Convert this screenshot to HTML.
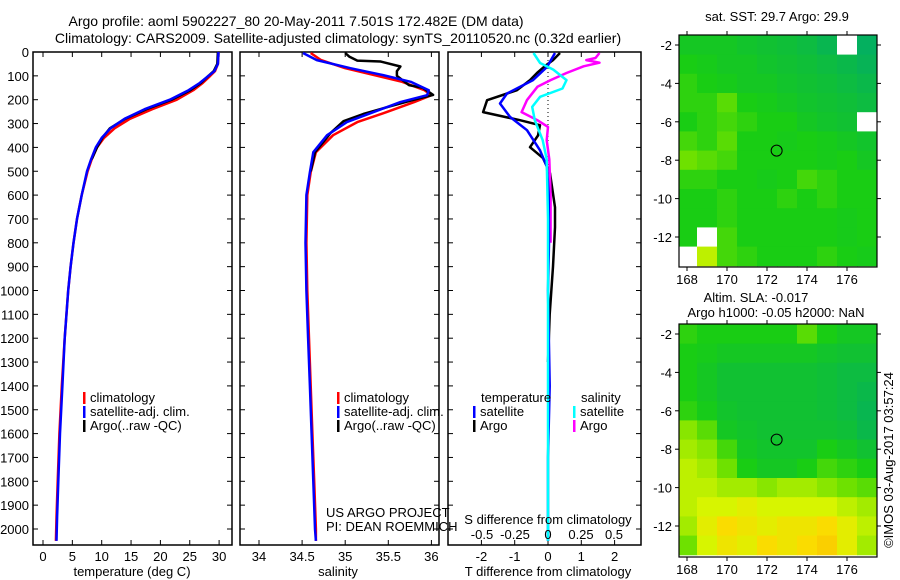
<!DOCTYPE html>
<html><head><meta charset="utf-8"><style>
html,body{margin:0;padding:0;background:#fff}
svg{display:block;font-family:"Liberation Sans",Arial,sans-serif}
</style></head><body>
<svg id="fig" width="900" height="580" viewBox="0 0 900 580" xmlns="http://www.w3.org/2000/svg">
<rect width="900" height="580" fill="#fff"/>
<text x="296" y="26" font-size="14" text-anchor="middle">Argo profile: aoml 5902227_80 20-May-2011 7.501S 172.482E (DM data)</text>
<text x="338" y="43" font-size="14" text-anchor="middle">Climatology: CARS2009. Satellite-adjusted climatology: synTS_20110520.nc (0.32d earlier)</text>
<g id="g"></g>
</svg>
<script>
// ---- data ----
const depthTicks=[0,100,200,300,400,500,600,700,800,900,1000,1100,1200,1300,1400,1500,1600,1700,1800,1900,2000];
const tempTicks=[0,5,10,15,20,25,30];
const salTicks=[34,34.5,35,35.5,36];
const tdiffTicks=[-2,-1,0,1,2];
const sdiffTicks=[-0.5,-0.25,0,0.25,0.5];
const sdiffTickLabels=["-0.5","-0.25","0","0.25","0.5"];
const lonTicks=[168,170,172,174,176];
const latTicks=[-2,-4,-6,-8,-10,-12];

const tClimDepth=[0,50,80,100,130,160,200,240,280,320,360,400,450,500,600,700,800,900,1000,1200,1400,1600,1800,1950,2050];
const tClim=[29.9,29.8,29.3,28.5,27.2,25.6,22.8,18.6,14.8,12.2,10.4,9.2,8.3,7.6,6.6,5.8,5.2,4.7,4.3,3.7,3.2,2.8,2.5,2.3,2.2];
const tSat=[29.9,29.8,29.2,28.2,26.7,24.8,21.6,17.3,13.9,11.5,10.0,9.0,8.2,7.5,6.6,5.8,5.2,4.7,4.3,3.7,3.3,2.9,2.6,2.4,2.3];
const tArgoDepth=[0,50,80,100,130,160,200,240,280,320,360,400,450];
const tArgo=[29.8,29.7,29.1,28.2,26.9,25.1,21.9,17.6,14.0,11.4,10.1,9.2,8.3];

const sDepth=[4,34,68,97,125,160,181,210,252,294,349,420,504,600,800,1000,1200,1400,1600,1800,2000,2050];
const sClim=[34.6,34.72,35.0,35.34,35.66,35.92,36.0,35.8,35.48,35.14,34.86,34.66,34.6,34.56,34.55,34.56,34.58,34.6,34.62,34.64,34.66,34.66];
const sSat=[34.51,34.67,35.06,35.44,35.76,35.97,35.95,35.64,35.33,35.02,34.79,34.63,34.59,34.55,34.54,34.55,34.57,34.59,34.61,34.63,34.65,34.66];
const sArgoDepth=[4,20,36,40,61,80,100,139,150,180,200,231,260,290,340,420,500];
const sArgo=[35.0,35.05,35.14,35.41,35.64,35.6,35.6,35.74,35.9,36.02,35.8,35.49,35.21,34.98,34.83,34.65,34.6];

const dTDepth=[4,34,60,88,118,160,202,252,286,307,350,399,445,508,651,735,900,1100,1300];
const dTArgo=[0.36,0.15,-0.1,-0.33,-0.54,-0.93,-1.83,-1.95,-0.84,-0.24,-0.3,-0.54,-0.15,0.06,0.21,0.21,0.15,0.05,0.0];
const dTSatDepth=[4,63,118,174,216,272,328,412,482,600,800,1000,1400,1700,2000,2050];
const dTSat=[0.21,-0.03,-0.45,-1.23,-1.44,-1.14,-0.63,-0.24,-0.03,0.02,0.03,0.0,0.05,0.0,0.0,0.0];
const dSSatDepth=[4,46,74,118,153,188,230,286,370,450,700,1000,1500,2050];
const dSSat=[-0.11,-0.06,0.04,0.14,0.11,-0.06,-0.12,-0.1,-0.04,-0.01,0.0,0.0,0.0,0.0];
const dSArgoDepth=[4,25,34,45,60,88,118,146,202,252,286,314,370,450,600,800];
const dSArgo=[0.39,0.36,0.29,0.39,0.27,0.14,0.02,-0.08,-0.16,-0.2,-0.08,0.0,-0.01,0.01,0.02,0.02];

const sstGrid=[
[0.25,0.25,0.25,0.22,0.2,0.18,0.15,0.1,null,0.05],
[0.3,0.28,0.25,0.25,0.22,0.2,0.18,0.15,0.12,0.08],
[0.35,0.3,0.28,0.25,0.25,0.22,0.2,0.18,0.15,0.12],
[0.35,0.35,0.45,0.3,0.28,0.25,0.22,0.2,0.18,0.15],
[0.3,0.35,0.4,0.35,0.3,0.3,0.25,0.22,0.2,null],
[0.4,0.35,0.45,0.3,0.3,0.28,0.3,0.28,0.25,0.22],
[0.5,0.45,0.4,0.3,0.3,0.3,0.3,0.28,0.3,0.25],
[0.35,0.35,0.3,0.3,0.28,0.3,0.4,0.35,0.3,0.3],
[0.3,0.3,0.35,0.3,0.3,0.35,0.3,0.35,0.3,0.3],
[0.3,0.3,0.35,0.3,0.3,0.3,0.3,0.3,0.28,0.3],
[0.3,null,0.4,0.3,0.3,0.3,0.3,0.3,0.28,0.3],
[null,0.65,0.4,0.35,0.3,0.3,0.3,0.35,0.3,0.28]];
const slaGrid=[
[0.35,0.3,0.3,0.3,0.3,0.3,0.45,0.3,0.25,0.25],
[0.3,0.28,0.25,0.25,0.25,0.25,0.25,0.22,0.2,0.2],
[0.3,0.25,0.2,0.2,0.2,0.2,0.2,0.18,0.15,0.15],
[0.3,0.25,0.2,0.2,0.2,0.2,0.2,0.18,0.15,0.12],
[0.35,0.28,0.22,0.2,0.2,0.2,0.2,0.18,0.15,0.1],
[0.55,0.45,0.25,0.22,0.2,0.2,0.2,0.2,0.18,0.12],
[0.6,0.55,0.4,0.25,0.22,0.22,0.22,0.3,0.25,0.2],
[0.65,0.6,0.5,0.3,0.25,0.25,0.3,0.4,0.35,0.3],
[0.65,0.65,0.6,0.6,0.55,0.6,0.6,0.55,0.5,0.45],
[0.65,0.7,0.7,0.75,0.7,0.7,0.7,0.7,0.65,0.6],
[0.6,0.75,0.85,0.8,0.75,0.8,0.8,0.85,0.75,0.65],
[0.5,0.7,0.8,0.75,0.85,0.8,0.85,0.9,0.75,0.6]];
const floatLon=172.482, floatLat=-7.501;

// ---- drawing ----
const NS="http://www.w3.org/2000/svg";
const G=document.getElementById('g');
function el(tag,attrs,parent){const e=document.createElementNS(NS,tag);for(const k in attrs)e.setAttribute(k,attrs[k]);(parent||G).appendChild(e);return e;}
function txt(x,y,s,anchor,parent,size){const t=el('text',{x:x,y:y,'font-size':size||13,'text-anchor':anchor||'start'},parent);t.textContent=s;return t;}
const yTop=52,yBot=545;
const yD=d=>yTop+d*0.2385;

function panel(name,x0,x1,xs,ticks,labels,yLabels){
  const g=el('g',{});
  
  
  const r=el('rect',{x:x0,y:yTop,width:x1-x0,height:yBot-yTop,fill:'none',stroke:'#000','stroke-width':1.5},g);
  
  
  depthTicks.forEach(d=>{
    const y=yD(d);
    el('line',{x1:x0,x2:x0+5,y1:y,y2:y,stroke:'#000'},g);
    el('line',{x1:x1-5,x2:x1,y1:y,y2:y,stroke:'#000'},g);
    if(yLabels){const t=txt(x0-4,y+5,String(d),'end',g);}
  });
  ticks.forEach((v,i)=>{
    const x=xs(v);
    el('line',{x1:x,x2:x,y1:yTop,y2:yTop+5,stroke:'#000'},g);
    el('line',{x1:x,x2:x,y1:yBot-5,y2:yBot,stroke:'#000'},g);
    const t=txt(x,561,labels?labels[i]:String(v),'middle',g);
    
    
  });
  return g;
}
function line(name,depths,vals,xs,color,w,parent){
  const pts=depths.map((d,i)=>xs(vals[i]).toFixed(1)+','+yD(d).toFixed(1)).join(' ');
  const p=el('polyline',{points:pts,fill:'none',stroke:color,'stroke-width':w||2.5,'stroke-linejoin':'round'},parent);
  
  
}
function legend(x,y,color,label,parent){
  el('rect',{x:x,y:y-10,width:2.5,height:12,fill:color},parent);
  const t=txt(x+7,y,label,'start',parent);
  
  
}

// panel 1 temperature
const xT=v=>43+v*5.87;
const p1=panel('temperature-panel',33,232,xT,tempTicks,null,true);
line('temp-climatology',tClimDepth,tClim,xT,'#ff0000',2.5,p1);
line('temp-argo',tArgoDepth,tArgo,xT,'#000',2.5,p1);
line('temp-satellite-adj',tClimDepth,tSat,xT,'#0000ff',2.5,p1);
legend(83,402,'#ff0000','climatology',p1);
legend(83,416,'#0000ff','satellite-adj. clim.',p1);
legend(83,430,'#000','Argo(..raw -QC)',p1);
let t=txt(132,576,'temperature (deg C)','middle',p1);


// panel 2 salinity
const xS=v=>259+(v-34)*86.2;
const p2=panel('salinity-panel',240,439,xS,salTicks,null,false);
line('sal-climatology',sDepth,sClim,xS,'#ff0000',2.5,p2);
line('sal-argo',sArgoDepth,sArgo,xS,'#000',2.5,p2);
line('sal-satellite-adj',sDepth,sSat,xS,'#0000ff',2.5,p2);
legend(337,402,'#ff0000','climatology',p2);
legend(337,416,'#0000ff','satellite-adj. clim.',p2);
legend(337,430,'#000','Argo(..raw -QC)',p2);
t=txt(326,517,'US ARGO PROJECT','start',p2);
t=txt(326,531,'PI: DEAN ROEMMICH','start',p2);
t=txt(338,576,'salinity','middle',p2);

// panel 3 differences
const xdT=v=>548+v*33.3;
const xdS=v=>548+v*132;
const p3=panel('difference-panel',448,641,xdT,tdiffTicks,null,false);
el('line',{x1:548,x2:548,y1:yTop,y2:yBot,stroke:'#000','stroke-dasharray':'1,3'},p3);
line('tdiff-argo',dTDepth,dTArgo,xdT,'#000',2.5,p3);
line('sdiff-argo',dSArgoDepth,dSArgo,xdS,'#ff00ff',2.5,p3);
line('tdiff-satellite',dTSatDepth,dTSat,xdT,'#0000ff',2.5,p3);
line('sdiff-satellite',dSSatDepth,dSSat,xdS,'#00ffff',2.5,p3);
t=txt(481,402,'temperature','start',p3);
t=txt(581,402,'salinity','start',p3);
legend(473,416,'#0000ff','satellite',p3);
legend(473,430,'#000','Argo',p3);
legend(573,416,'#00ffff','satellite',p3);
legend(573,430,'#ff00ff','Argo',p3);
t=txt(548,524,'S difference from climatology','middle',p3);
sdiffTicks.forEach((v,i)=>{const tt=txt(xdS(v),539,sdiffTickLabels[i],'middle',p3);});
t=txt(548,576,'T difference from climatology','middle',p3);

// maps
function cmap(v){
  const stops=[[0,[0,170,110]],[0.3,[25,205,20]],[0.5,[110,225,0]],[0.7,[215,245,0]],[0.85,[250,220,0]],[1,[250,180,0]]];
  for(let i=1;i<stops.length;i++){if(v<=stops[i][0]){const a=stops[i-1],b=stops[i];const f=(v-a[0])/(b[0]-a[0]);return 'rgb('+a[1].map((c,k)=>Math.round(c+(b[1][k]-c)*f)).join(',')+')';}}
  return 'rgb(250,180,0)';
}
function map(name,grid,y0,y1,latM2y){
  const x0=679,x1=877;
  const g=el('g',{});
  
  
  const lonX=lon=>687+(lon-168)*20;
  const latY=lat=>latM2y+(-2-lat)*(y1-y0>240?19.4:19.2);
  grid.forEach((row,r)=>row.forEach((v,c)=>{
    const lon0=167.5+c, lat0=-1.5-r;
    const xa=Math.max(x0,lonX(lon0)), xb=Math.min(x1,lonX(lon0+1));
    const ya=Math.max(y0,latY(lat0)), yb=Math.min(y1,latY(lat0-1));
    const cell=el('rect',{x:xa,y:ya,width:xb-xa+0.5,height:yb-ya+0.5,fill:v===null?'#fff':cmap(v)},g);
    
    
  }));
  el('rect',{x:x0,y:y0,width:x1-x0,height:y1-y0,fill:'none',stroke:'#000','stroke-width':1.2},g);
  lonTicks.forEach(l=>{const x=lonX(l);el('line',{x1:x,x2:x,y1:y0-4,y2:y0,stroke:'#000'},g);el('line',{x1:x,x2:x,y1:y1,y2:y1+4,stroke:'#000'},g);
    const tt=txt(x,y1+17,String(l),'middle',g);});
  latTicks.forEach(l=>{const y=latY(l);el('line',{x1:x0-4,x2:x0,y1:y,y2:y,stroke:'#000'},g);el('line',{x1:x1,x2:x1+4,y1:y,y2:y,stroke:'#000'},g);
    const tt=txt(x0-7,y+5,String(l),'end',g);});
  const c=el('circle',{cx:lonX(floatLon),cy:latY(floatLat),r:5.5,fill:'none',stroke:'#000','stroke-width':1},g);
  
  
}
map('sst-map',sstGrid,35,267,45);
map('sla-map',slaGrid,324,557,334);
t=txt(777,21,'sat. SST: 29.7 Argo: 29.9','middle');
t=txt(756,302,'Altim. SLA: -0.017','middle');
t=txt(776,317,'Argo h1000: -0.05 h2000: NaN','middle');
t=txt(0,0,'©IMOS 03-Aug-2017 03:57:24','middle');
t.setAttribute('transform','translate(893,460) rotate(-90)');


</script>
</body></html>
